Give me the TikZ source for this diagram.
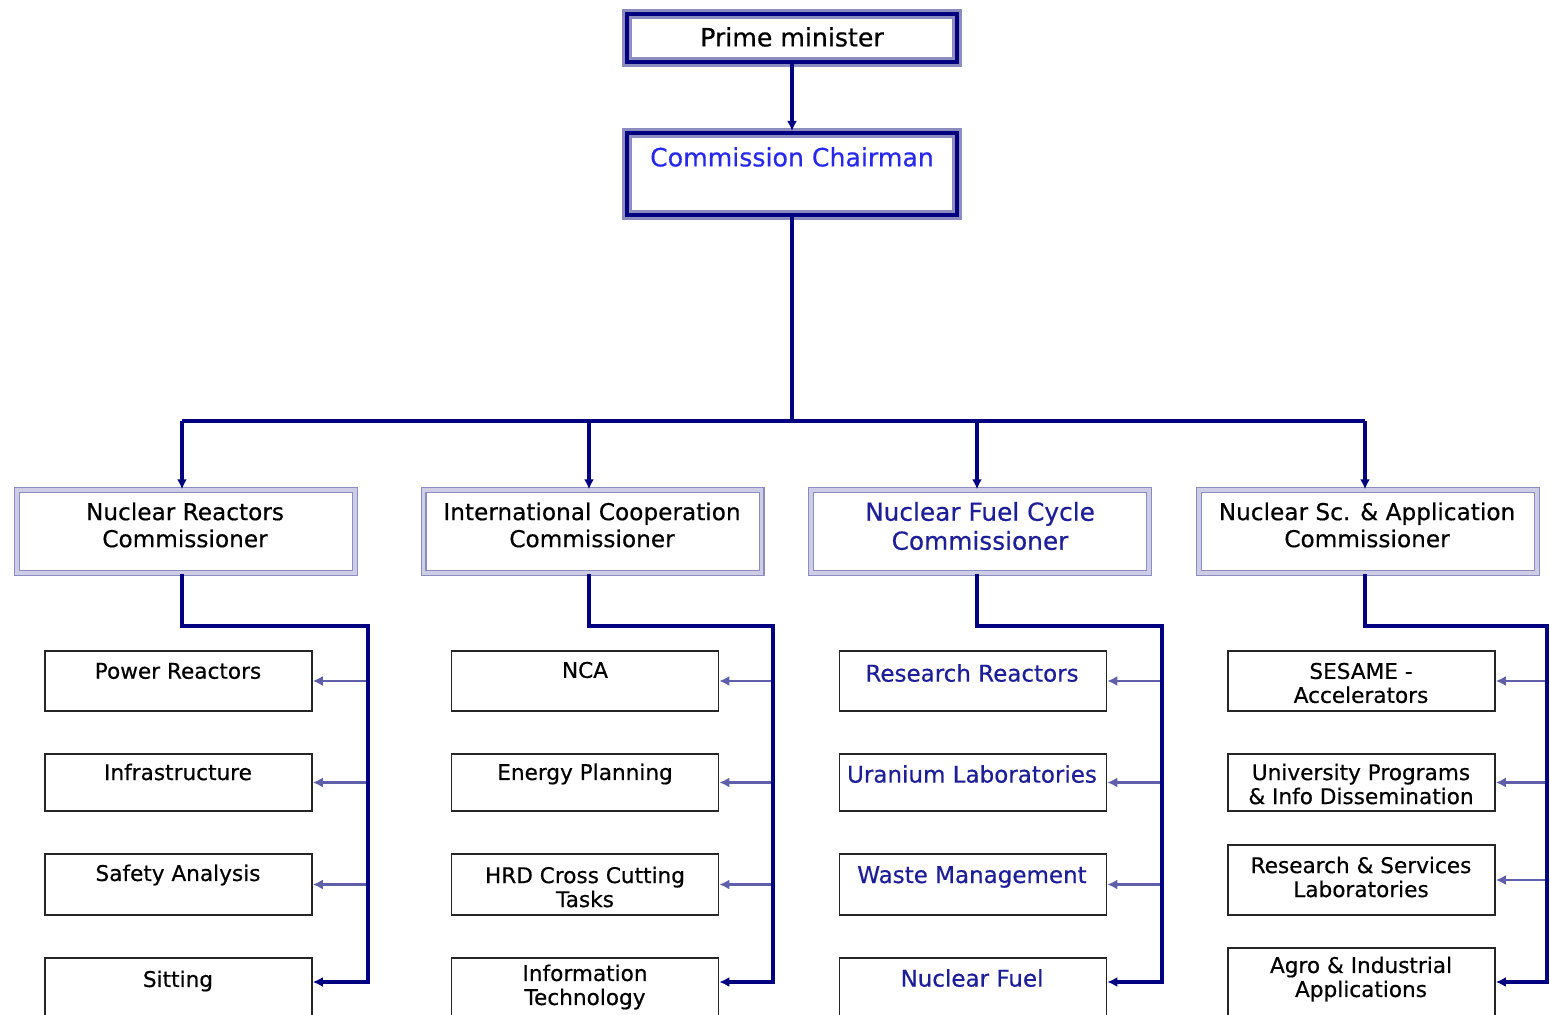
\documentclass[tikz,border=0pt]{standalone}
\usepackage{fontspec}
\setmainfont{DejaVu Sans}[FakeBold=0.5]
\usetikzlibrary{arrows.meta}

\definecolor{navy}{RGB}{0,0,128}
\definecolor{band}{RGB}{140,140,190}
\definecolor{bandlight}{RGB}{205,205,230}
\definecolor{branchcol}{RGB}{95,95,170}
\definecolor{chairblue}{RGB}{40,40,235}
\definecolor{fuelblue}{RGB}{30,30,150}

\begin{document}
\begin{tikzpicture}[x=0.5pt,y=-0.5pt,
  link/.style={draw=navy,line width=2pt},
  tip/.style={-{Latex[length=5pt,width=5pt]}},
  branch/.style={draw=branchcol,line width=1.4pt,-{Latex[length=5pt,width=5pt]}},
  topbox/.style={draw=navy,line width=2pt,minimum width=165pt,inner sep=0pt,preaction={draw=band,line width=5pt}},
  combox/.style={draw=band,double=bandlight,double distance=1.6pt,line width=0.7pt,minimum width=169pt,minimum height=41.5pt,inner sep=0pt},
  subbox/.style={draw=black!85,line width=0.8pt,minimum width=133.5pt,inner sep=0pt},
  toptxt/.style={font=\fontsize{12.6}{15}\selectfont},
  comtxt/.style={align=center,font=\fontsize{11.6}{13.5}\selectfont},
  subtxt/.style={align=center,font=\fontsize{10.8}{12}\selectfont}]
\useasboundingbox (0,0) rectangle (1550,1015);
\clip (0,0) rectangle (1550,1015);

% top of the chart
\node[topbox,minimum height=24pt] (pm) at (792,38) {};
\node[toptxt] (pmtxt) at (792,37) {Prime minister};
\node[topbox,minimum height=41pt] (chair) at (792,174) {};
\node[toptxt,text=chairblue] (chairtxt) at (792,157) {Commission Chairman};
\draw[link,tip] (pm.south) -- (chair.north);

% commissioners
\node[combox] (nrc) at (186,531.5) {};
\node[comtxt] (nrctxt) at (185,525) {Nuclear Reactors\\Commissioner};
\node[combox] (icc) at (592.5,531.5) {};
\node[comtxt] (icctxt) at (592,525) {International Cooperation\\Commissioner};
\node[combox] (nfc) at (980,531.5) {};
\node[comtxt,text=fuelblue,font=\fontsize{12.4}{14.5}\selectfont] (nfctxt) at (980,526) {Nuclear Fuel Cycle\\Commissioner};
\node[combox] (nsa) at (1368,531.5) {};
\node[comtxt] (nsatxt) at (1367,525) {Nuclear Sc. \& Application\\Commissioner};

\coordinate (hub) at (792,421);
\coordinate (b1) at (182,421);
\coordinate (b2) at (589,421);
\coordinate (b3) at (977,421);
\coordinate (b4) at (1365,421);
\draw[link] (chair.south) -- (hub);
\draw[link] (b1) -- (b4);
\draw[link,tip] (b1) -- (b1 |- nrc.north);
\draw[link,tip] (b2) -- (b2 |- icc.north);
\draw[link,tip] (b3) -- (b3 |- nfc.north);
\draw[link,tip] (b4) -- (b4 |- nsa.north);

% nuclear reactors
\node[subbox,minimum height=30pt] (pwr) at (178.5,681) {};
\node[subtxt] (pwrtxt) at (178,671) {Power Reactors};
\node[subbox,minimum height=28.5pt] (infra) at (178.5,782.5) {};
\node[subtxt] (infratxt) at (178,772) {Infrastructure};
\node[subbox,minimum height=30.5pt] (safety) at (178.5,884.5) {};
\node[subtxt] (safetytxt) at (178,875) {Safety Analysis};
\node[subbox,minimum height=31pt] (sitting) at (178.5,989) {};
\node[subtxt] (sittingtxt) at (178,981) {Sitting};

\coordinate (s1) at (368,626);
\coordinate (e1) at (368,982);
\draw[branch] (pwr.east -| s1) -- (pwr.east);
\draw[branch] (infra.east -| s1) -- (infra.east);
\draw[branch] (safety.east -| s1) -- (safety.east);
\draw[link,tip] (nrc.south -| b1) |- (s1) -- (e1) -- (sitting.east |- e1);

% international cooperation
\node[subbox,minimum height=30pt] (nca) at (585,681) {};
\node[subtxt] (ncatxt) at (585,670) {NCA};
\node[subbox,minimum height=28.5pt] (energy) at (585,782.5) {};
\node[subtxt] (energytxt) at (585,774) {Energy Planning};
\node[subbox,minimum height=30.5pt] (hrd) at (585,884.5) {};
\node[subtxt] (hrdtxt) at (585,887) {HRD Cross Cutting\\Tasks};
\node[subbox,minimum height=31pt] (infotech) at (585,989) {};
\node[subtxt] (infotechtxt) at (585,987) {Information\\Technology};

\coordinate (s2) at (773,626);
\coordinate (e2) at (773,982);
\draw[branch] (nca.east -| s2) -- (nca.east);
\draw[branch] (energy.east -| s2) -- (energy.east);
\draw[branch] (hrd.east -| s2) -- (hrd.east);
\draw[link,tip] (icc.south -| b2) |- (s2) -- (e2) -- (infotech.east |- e2);

% nuclear fuel cycle
\node[subbox,minimum height=30pt] (resreact) at (973,681) {};
\node[subtxt,text=fuelblue,font=\fontsize{11.5}{13}\selectfont] (resreacttxt) at (972,673) {Research Reactors};
\node[subbox,minimum height=28.5pt] (uranium) at (973,782.5) {};
\node[subtxt,text=fuelblue,font=\fontsize{11.5}{13}\selectfont] (uraniumtxt) at (972,774) {Uranium Laboratories};
\node[subbox,minimum height=30.5pt] (waste) at (973,884.5) {};
\node[subtxt,text=fuelblue,font=\fontsize{11.5}{13}\selectfont] (wastetxt) at (972,877) {Waste Management};
\node[subbox,minimum height=31pt] (fuel) at (973,989) {};
\node[subtxt,text=fuelblue,font=\fontsize{11.5}{13}\selectfont] (fueltxt) at (972,978) {Nuclear Fuel};

\coordinate (s3) at (1162,626);
\coordinate (e3) at (1162,982);
\draw[branch] (resreact.east -| s3) -- (resreact.east);
\draw[branch] (uranium.east -| s3) -- (uranium.east);
\draw[branch] (waste.east -| s3) -- (waste.east);
\draw[link,tip] (nfc.south -| b3) |- (s3) -- (e3) -- (fuel.east |- e3);

% nuclear science and applications
\node[subbox,minimum height=30pt] (sesame) at (1361.5,681) {};
\node[subtxt] (sesametxt) at (1361,683) {SESAME -\\Accelerators};
\node[subbox,minimum height=28.5pt] (univ) at (1361.5,782.5) {};
\node[subtxt] (univtxt) at (1361,784) {University Programs\\\& Info Dissemination};
\node[subbox,minimum height=35pt] (labs) at (1361.5,880) {};
\node[subtxt] (labstxt) at (1361,877) {Research \& Services\\Laboratories};
\node[subbox,minimum height=36pt] (agro) at (1361.5,984) {};
\node[subtxt] (agrotxt) at (1361,979) {Agro \& Industrial\\Applications};

\coordinate (s4) at (1547,626);
\coordinate (e4) at (1547,982);
\draw[branch] (sesame.east -| s4) -- (sesame.east);
\draw[branch] (univ.east -| s4) -- (univ.east);
\draw[branch] (labs.east -| s4) -- (labs.east);
\draw[link,tip] (nsa.south -| b4) |- (s4) -- (e4) -- (agro.east |- e4);
\end{tikzpicture}
\end{document}
